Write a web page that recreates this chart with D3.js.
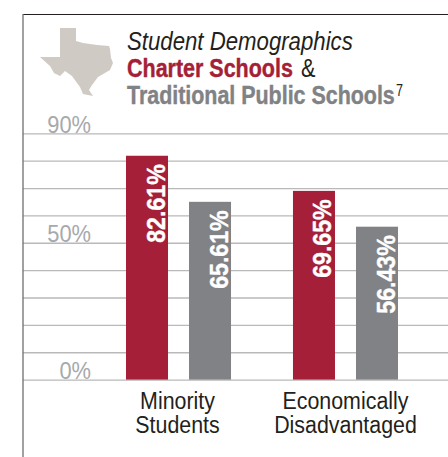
<!DOCTYPE html>
<html>
<head>
<meta charset="utf-8">
<script src="https://cdn.jsdelivr.net/npm/d3@7"></script>
<style>
  html, body { margin: 0; padding: 0; background: #fff; }
  svg { display: block; }
  text { font-family: "Liberation Sans", sans-serif; }
</style>
</head>
<body>
<svg id="chart" width="448" height="457"></svg>
<script>
// Chart values
const categories = [["Minority", "Students"], ["Economically", "Disadvantaged"]];
const seriesNames = ["Charter Schools", "Traditional Public Schools"];
const charterValues = [82.61, 69.65];
const traditionalValues = [65.61, 56.43];
const gridTicks = [0, 10, 20, 30, 40, 50, 60, 70, 80, 90];
const labelledTicks = [0, 50, 90];

const red = "#a51f38";
const gray = "#808285";
const svg = d3.select("#chart");

const plot = { left: 23, right: 448, top: 133.3, bottom: 379.6 };

const axisY = d3.scaleLinear().domain([0, 90]).range([plot.bottom, plot.top]);
// Bars run on a slightly longer domain than the printed gridline scale
const barY = d3.scaleLinear().domain([0, 90.9]).range([plot.bottom, plot.top]);

const groupX = d3.scaleBand()
  .domain(d3.range(categories.length))
  .range([126, 398])
  .paddingInner(0.371);
const seriesX = d3.scaleBand()
  .domain(d3.range(seriesNames.length))
  .range([0, groupX.bandwidth()])
  .paddingInner(1 / 3);

// Squeezes a text horizontally to imitate a condensed typeface
function condense(selection, factor) {
  selection.each(function () {
    const width = this.getComputedTextLength();
    d3.select(this)
      .attr("textLength", width * factor)
      .attr("lengthAdjust", "spacingAndGlyphs");
  });
}

// Places a title run at (x, y) and scales it to the given width
function titleRun(str, x, y, width, attrs) {
  const t = svg.append("text").text(str);
  Object.entries(attrs).forEach(([k, v]) => t.attr(k, v));
  const natural = t.node().getComputedTextLength();
  t.attr("transform", `translate(${x},${y}) scale(${width / natural},1)`);
  return t;
}

// Frame
svg.append("line").attr("x1", 23).attr("x2", 448).attr("y1", 14.5).attr("y2", 14.5)
  .attr("stroke", "#231f20").attr("stroke-width", 1.2);

// Gridlines and percentage labels
const axis = d3.axisLeft(axisY)
  .tickValues(gridTicks)
  .tickSize(-(plot.right - plot.left))
  .tickFormat(d => labelledTicks.includes(d) ? d + "%" : "");
const axisG = svg.append("g")
  .attr("transform", `translate(${plot.left},0)`)
  .call(axis);
axisG.select(".domain").remove();
axisG.selectAll(".tick line")
  .attr("stroke", "#b9b9b9").attr("stroke-width", 1.3);
axisG.selectAll(".tick text")
  .attr("x", 68).attr("dy", "-0.04em")
  .attr("text-anchor", "end")
  .attr("dominant-baseline", "auto")
  .attr("font-family", "'Liberation Sans'")
  .attr("font-size", 24)
  .attr("fill", "#a7a9ac")
  .call(condense, 0.91);

svg.append("line").attr("x1", 23).attr("x2", 23).attr("y1", 14).attr("y2", 457)
  .attr("stroke", "#6d6e71").attr("stroke-width", 1.3);

// Bars and rotated value labels
const seriesValues = [charterValues, traditionalValues];
const seriesColors = [red, gray];
seriesValues.forEach((values, s) => {
  const g = svg.append("g");
  g.selectAll("rect").data(values).join("rect")
    .attr("x", (d, i) => groupX(i) + seriesX(s))
    .attr("width", seriesX.bandwidth())
    .attr("y", d => barY(d))
    .attr("height", d => barY(0) - barY(d))
    .attr("fill", seriesColors[s]);
  g.selectAll("text").data(values).join("text")
    .attr("transform", (d, i) =>
      `translate(${groupX(i) + seriesX(s) + seriesX.bandwidth() - 3.5},${barY(d) + 8.5}) rotate(-90)`)
    .attr("text-anchor", "end")
    .attr("font-weight", "bold")
    .attr("font-size", 26)
    .attr("fill", "#fff")
    .attr("stroke", "#fff")
    .attr("stroke-width", 0.4)
    .text(d => d.toFixed(2) + "%")
    .call(condense, 0.89);
});

// Category labels
categories.forEach((lines, i) => {
  const cx = groupX(i) + groupX.bandwidth() / 2;
  lines.forEach((line, k) => {
    svg.append("text")
      .attr("x", cx + (i === 0 ? -1 : 0))
      .attr("y", 408.5 + k * 24.5)
      .attr("text-anchor", "middle")
      .attr("font-size", 23)
      .attr("fill", "#231f20")
      .text(line)
      .call(condense, 0.93);
  });
});

// Texas outline
const texas = [[60,28],[76,28],[76,41],[83,43],[97,45],[109,46],[110,49],[111,58],[113,63],[110,70],[98,77],[92,85],[89,90],[93,96],[83,94],[80,87],[72,76],[65,71],[60,76],[54,73],[50,66],[40,57],[60,57]];
svg.append("path")
  .attr("d", d3.line().curve(d3.curveLinearClosed)(texas))
  .attr("fill", "#cfcac3");

// Title block
titleRun("Student Demographics", 127, 50, 226,
  { "font-style": "italic", "font-size": 25, "fill": "#231f20" });
titleRun(seriesNames[0], 127, 77, 166,
  { "font-weight": "bold", "font-size": 25, "fill": red, "stroke": red, "stroke-width": 0.4 });
titleRun("&", 301, 77, 14.5, { "font-size": 25, "fill": "#231f20" });
titleRun(seriesNames[1], 127, 104, 268,
  { "font-weight": "bold", "font-size": 25, "fill": gray, "stroke": gray, "stroke-width": 0.4 });
titleRun("7", 396, 96, 7, { "font-size": 16, "fill": "#231f20" });
</script>
</body>
</html>
